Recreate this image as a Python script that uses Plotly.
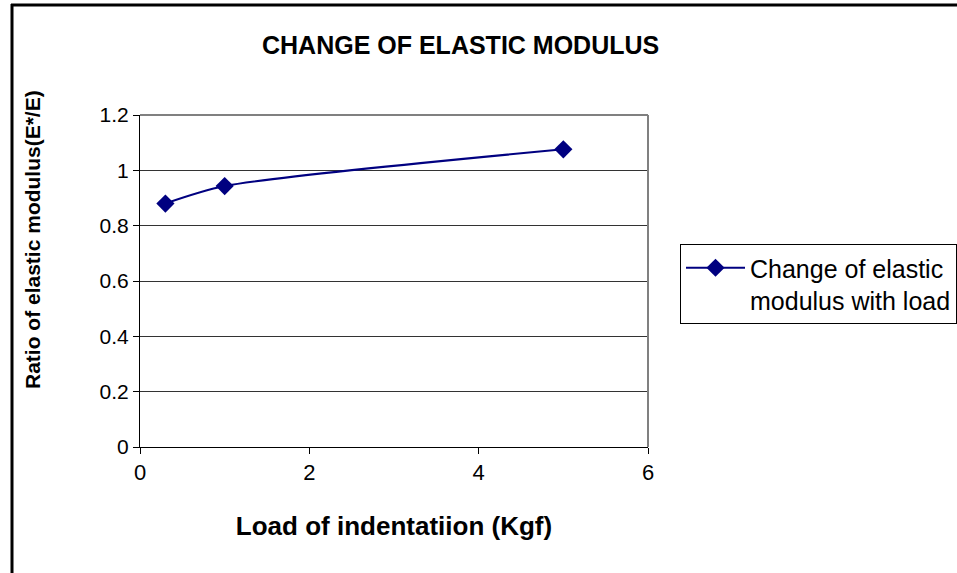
import plotly.graph_objects as go

# Data
load_kgf = [0.3, 1.0, 5.0]
ratio_e = [0.88, 0.943, 1.076]
series_name = "Change of elastic<br>modulus with load"

x_ticks = [0, 2, 4, 6]
x_ticktext = ["0", "2", "4", "6"]
y_ticks = [0, 0.2, 0.4, 0.6, 0.8, 1.0, 1.2]
y_ticktext = ["0", "0.2", "0.4", "0.6", "0.8", "1", "1.2"]

title_text = "<b>CHANGE OF ELASTIC MODULUS</b>"
x_title = "<b>Load of indentatiion (Kgf)</b>"
y_title = "<b>Ratio of elastic modulus(E*/E)</b>"

W, H = 957, 573
L, R, T, B = 140, 648, 115, 447

def px(x):
    return (x - L) / (R - L)

def py(y):
    return (B - y) / (B - T)

fig = go.Figure()
fig.add_trace(go.Scatter(
    x=load_kgf, y=ratio_e, mode="lines+markers", name=series_name,
    line=dict(color="#000080", width=2, shape="spline", smoothing=0.7),
    marker=dict(symbol="diamond", size=14, color="#000080"),
))

font_family = "Arial, Liberation Sans, sans-serif"

fig.update_layout(
    width=W, height=H,
    margin=dict(l=L, r=W - R, t=T, b=H - B, pad=0, autoexpand=False),
    paper_bgcolor="white", plot_bgcolor="white",
    font=dict(family=font_family, color="black", size=21),
    showlegend=True,
    legend=dict(
        xref="container", yref="container",
        x=680 / W, y=1 - 244 / H, xanchor="left", yanchor="top",
        bordercolor="black", borderwidth=1, bgcolor="white",
        font=dict(size=25, family=font_family, color="black"),
        valign="top", itemwidth=59, tracegroupgap=0,
    ),
    xaxis=dict(
        range=[0, 6], tickvals=x_ticks, ticktext=x_ticktext,
        showgrid=False, zeroline=False,
        showline=True, linecolor="black", linewidth=1,
        ticks="outside", ticklen=6, tickcolor="black",
        tickfont=dict(size=22), fixedrange=True,
        title=dict(text=x_title, font=dict(size=26), standoff=32),
    ),
    yaxis=dict(
        range=[0, 1.2], tickvals=y_ticks, ticktext=y_ticktext,
        showgrid=True, gridcolor="#333333", gridwidth=1, zeroline=False,
        showline=True, linecolor="black", linewidth=1,
        ticks="outside", ticklen=6, tickcolor="black",
        tickfont=dict(size=21), fixedrange=True,
    ),
    annotations=[
        dict(text=title_text, xref="paper", yref="paper",
             x=px(460), y=py(45), xanchor="center", yanchor="middle",
             showarrow=False, font=dict(size=25, family=font_family, color="black")),
        dict(text=y_title, xref="paper", yref="paper", textangle=-90,
             x=px(32), y=py(240), xanchor="center", yanchor="middle",
             showarrow=False, font=dict(size=21, family=font_family, color="black")),
    ],
    shapes=[
        # plot area border (top and right)
        dict(type="line", xref="paper", yref="paper", x0=0, x1=1, y0=1, y1=1,
             line=dict(color="#808080", width=2)),
        dict(type="line", xref="paper", yref="paper", x0=1, x1=1, y0=0, y1=1,
             line=dict(color="#808080", width=2)),
        # outer chart border
        dict(type="line", xref="paper", yref="paper", x0=px(11), x1=px(970),
             y0=py(5), y1=py(5), line=dict(color="black", width=3)),
        dict(type="line", xref="paper", yref="paper", x0=px(12), x1=px(12),
             y0=py(4), y1=py(590), line=dict(color="black", width=3)),
    ],
)

fig.write_html("out.html")
